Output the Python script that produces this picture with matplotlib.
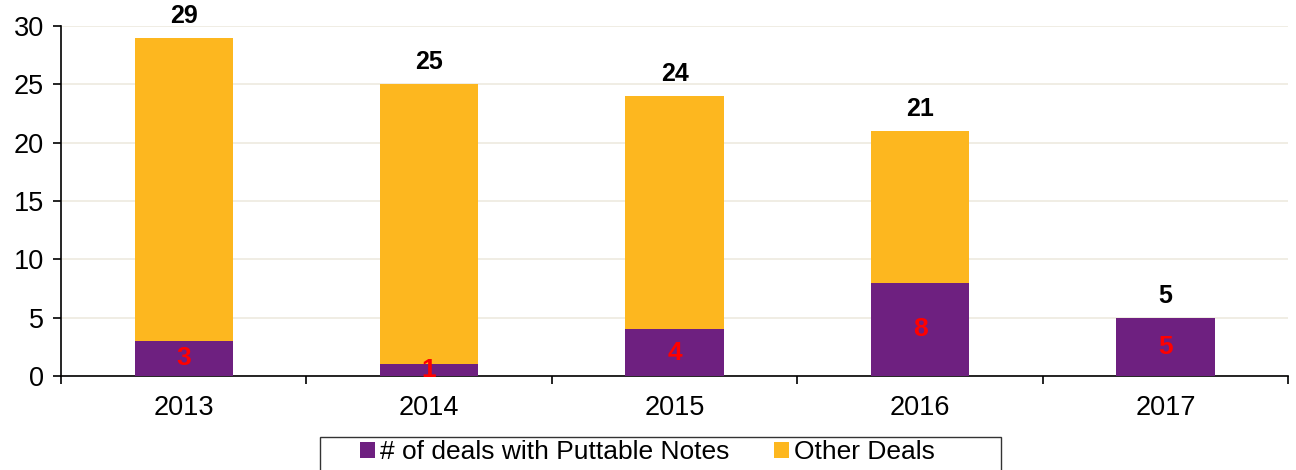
import numpy as np
import matplotlib.pyplot as plt
from matplotlib.patches import Rectangle

plt.rcParams['font.family'] = ['Liberation Sans', 'DejaVu Sans']

years = ['2013', '2014', '2015', '2016', '2017']
puttable = [3, 1, 4, 8, 5]
other = [26, 24, 20, 13, 0]
totals = [29, 25, 24, 21, 5]

purple = '#6E2080'
orange = '#FDB71F'

fig = plt.figure(figsize=(12.96, 4.70), dpi=100)
ax = fig.add_axes([0.047, 0.2, 0.947, 0.745])

x = np.arange(len(years))
ax.bar(x, puttable, width=0.4, color=purple, label='# of deals with Puttable Notes', zorder=3)
ax.bar(x, other, width=0.4, bottom=puttable, color=orange, label='Other Deals', zorder=3)

# valores dentro de la parte morada
for xi, v in zip(x, puttable):
    ax.text(xi, v / 2, str(v), ha='center', va='center', color='red',
            fontsize=19, fontweight='bold', zorder=4)

# totales arriba
for xi, t in zip(x, totals):
    ax.annotate(str(t), (xi, t), xytext=(0, 7), textcoords='offset points',
                ha='center', va='bottom', fontsize=18, fontweight='bold',
                annotation_clip=False)

ax.set_xlim(-0.5, len(years) - 0.5)
ax.set_ylim(0, 30)
ax.set_yticks(range(0, 31, 5))
ax.set_xticks(x)
ax.set_xticklabels(years)
ax.set_xticks(np.arange(-0.5, len(years)), minor=True)
ax.tick_params(axis='x', which='major', length=0, labelsize=19.5, pad=14)
ax.tick_params(axis='x', which='minor', length=6, width=1.2, direction='out')
ax.tick_params(axis='y', length=6, width=1.2, labelsize=19.5, pad=6)

ax.grid(axis='y', color='#EDEADF', linewidth=1.2, zorder=0)
for s in ['top', 'right']:
    ax.spines[s].set_visible(False)
ax.spines['left'].set_linewidth(1.2)
ax.spines['bottom'].set_linewidth(1.2)

# leyenda sin marco + recuadro aparte (cortado abajo como en el original)
leg = fig.legend(loc='upper left', bbox_to_anchor=(360 / 1296, 1 - 440 / 470), ncol=2,
                 fontsize=19, frameon=False, handlelength=0.55,
                 handleheight=0.55, handletextpad=0.2, columnspacing=1.7,
                 borderpad=0, borderaxespad=0)
fig.patches.append(Rectangle((320 / 1296, -0.05), 681 / 1296, 0.05 + 1 - 437 / 470,
                             transform=fig.transFigure, fill=False,
                             edgecolor='#333333', linewidth=1.0))

plt.savefig('out.png', dpi=100)
